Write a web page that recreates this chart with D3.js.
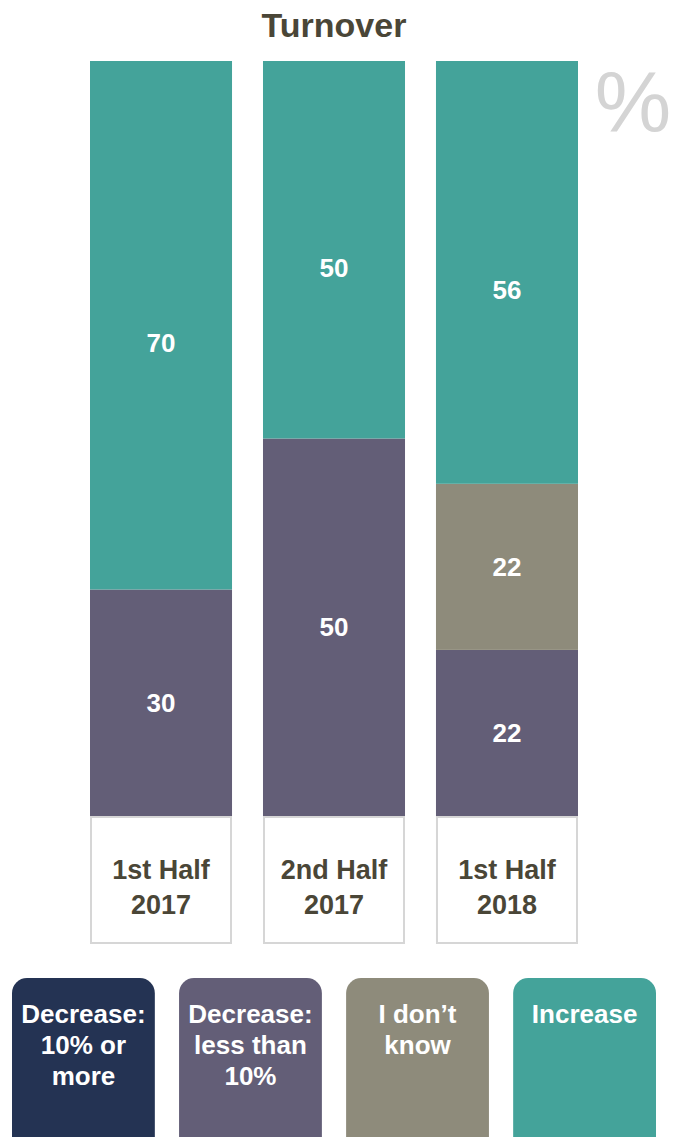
<!DOCTYPE html>
<html>
<head>
<meta charset="utf-8">
<script src="https://cdn.jsdelivr.net/npm/d3@7"></script>
<style>
html,body{margin:0;padding:0;background:#fff;}
svg{display:block;font-family:"Liberation Sans",Arial,sans-serif;}
</style>
</head>
<body>
<script>
const title = "Turnover";
const categories = ["1st Half 2017", "2nd Half 2017", "1st Half 2018"];
const categoryLines = [["1st Half", "2017"], ["2nd Half", "2017"], ["1st Half", "2018"]];
const seriesNames = ["Decrease: 10% or more", "Decrease: less than 10%", "I don\u2019t know", "Increase"];
const legendLines = [["Decrease:", "10% or", "more"], ["Decrease:", "less than", "10%"], ["I don\u2019t", "know"], ["Increase"]];
const seriesColors = ["#243353", "#635e77", "#8e8b7b", "#44a39a"];
const decrease10More = [0, 0, 0];
const decreaseLess10 = [30, 50, 22];
const dontKnow = [0, 0, 22];
const increase = [70, 50, 56];

const W = 675, H = 1137;
const svg = d3.select("body").append("svg").attr("width", W).attr("height", H);

const rows = categories.map((c, i) => ({
  cat: c,
  [seriesNames[0]]: decrease10More[i],
  [seriesNames[1]]: decreaseLess10[i],
  [seriesNames[2]]: dontKnow[i],
  [seriesNames[3]]: increase[i]
}));
const stacked = d3.stack().keys(seriesNames)(rows);

const x = d3.scaleBand().domain(categories).range([90, 578]).paddingInner(0.179).paddingOuter(0);
const y = d3.scaleLinear().domain([0, 100]).range([816, 61]);
const color = d3.scaleOrdinal().domain(seriesNames).range(seriesColors);

// title
svg.append("text").attr("x", 334).attr("y", 37).attr("text-anchor", "middle")
  .attr("font-size", 34).attr("font-weight", "bold").attr("fill", "#4a4637").text(title);

// percent sign
svg.append("text").attr("x", 633).attr("y", 132).attr("text-anchor", "middle")
  .attr("font-size", 86).attr("fill", "#d4d4d4").text("%");

// bars
const layers = svg.append("g").selectAll("g").data(stacked).join("g").attr("fill", d => color(d.key));
layers.selectAll("rect").data(d => d.map(p => ({p, key: d.key}))).join("rect")
  .attr("x", d => x(d.p.data.cat))
  .attr("y", d => y(d.p[1]))
  .attr("width", x.bandwidth())
  .attr("height", d => y(d.p[0]) - y(d.p[1]));

// value labels
const labG = svg.append("g");
stacked.forEach((layer, li) => {
  const isTop = li === stacked.length - 1;
  layer.forEach(p => {
    const v = p[1] - p[0];
    if (v <= 0) return;
    labG.append("text")
      .attr("x", x(p.data.cat) + x.bandwidth() / 2)
      .attr("y", (y(p[0]) + y(p[1])) / 2 + 9 + (isTop ? 18 : 0))
      .attr("text-anchor", "middle").attr("font-size", 26).attr("font-weight", "bold")
      .attr("fill", "#fff").text(v);
  });
});

// category label boxes
const cg = svg.append("g").selectAll("g").data(categories).join("g");
cg.append("rect")
  .attr("x", d => x(d) + 1).attr("y", 817)
  .attr("width", x.bandwidth() - 2).attr("height", 126)
  .attr("fill", "#fff").attr("stroke", "#d6d6d6").attr("stroke-width", 2);
cg.each(function(d, i) {
  const g = d3.select(this);
  categoryLines[i].forEach((ln, j) => {
    g.append("text").attr("x", x(d) + x.bandwidth() / 2).attr("y", 879 + j * 35)
      .attr("text-anchor", "middle").attr("font-size", 27).attr("font-weight", "bold")
      .attr("fill", "#4a4637").text(ln);
  });
});

// legend
const lx = d3.scaleBand().domain(seriesNames).range([12, 656]).paddingInner(0.145).paddingOuter(0);
const lg = svg.append("g").selectAll("g").data(seriesNames).join("g");
lg.append("rect")
  .attr("x", d => lx(d)).attr("y", 978)
  .attr("width", lx.bandwidth()).attr("height", 190)
  .attr("rx", 15).attr("fill", d => color(d));
lg.each(function(d, i) {
  const g = d3.select(this);
  legendLines[i].forEach((ln, j) => {
    g.append("text").attr("x", lx(d) + lx.bandwidth() / 2).attr("y", 1023 + j * 31)
      .attr("text-anchor", "middle").attr("font-size", 26).attr("font-weight", "bold")
      .attr("fill", "#fff").text(ln);
  });
});
</script>
</body>
</html>
